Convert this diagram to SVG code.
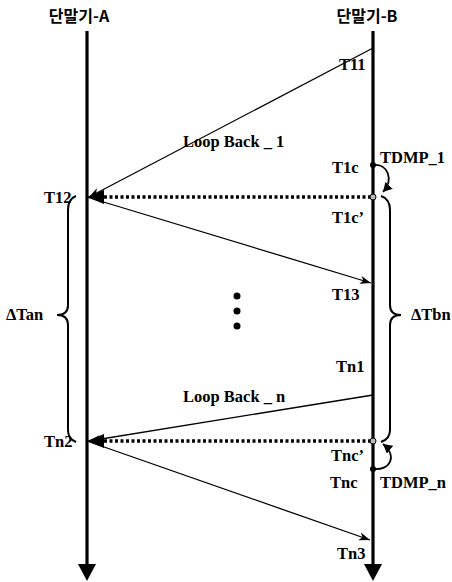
<svg xmlns="http://www.w3.org/2000/svg" width="452" height="582" viewBox="0 0 452 582">
<style>
text{font-family:"Liberation Serif","Noto Sans CJK KR",serif;font-weight:bold;font-size:16.5px;fill:#000}
.kr{font-family:"Noto Sans CJK KR","Liberation Sans",sans-serif;font-size:16px}
.life{stroke:#000;stroke-width:3.2;fill:none}
.msg{stroke:#000;stroke-width:1.3;fill:none}
.dot{stroke:#000;stroke-width:3.5;stroke-dasharray:3 2.5;fill:none}
.brace{stroke:#000;stroke-width:2;fill:none}
.loop{stroke:#000;stroke-width:1.8;fill:none}
</style>
<defs>
<marker id="ah" markerWidth="12" markerHeight="10" refX="11" refY="5" orient="auto" markerUnits="userSpaceOnUse">
<path d="M0,1 L11,5 L0,9 L3,5 Z" fill="#000"/>
</marker>
<marker id="ca" markerWidth="10" markerHeight="10" refX="9" refY="5" orient="auto" markerUnits="userSpaceOnUse">
<path d="M0,0 L9,5 L0,10 Z" fill="#000"/>
</marker>
</defs>

<g id="lifeline-A">
<text class="kr" x="79" y="22" text-anchor="middle">단말기-A</text>
<line class="life" x1="87" y1="31" x2="87" y2="566"/>
<polygon points="78,564 96,564 87,581" fill="#000"/>
</g>
<g id="lifeline-B">
<text class="kr" x="367" y="22" text-anchor="middle">단말기-B</text>
<line class="life" x1="373" y1="31" x2="373" y2="566"/>
<polygon points="364,564 382,564 373,581" fill="#000"/>
</g>

<g id="connectors">
<line class="msg" x1="373" y1="48" x2="89" y2="197" marker-end="url(#ah)"/>
<line class="dot" x1="371" y1="197" x2="102" y2="197"/>
<polygon points="87,197 104,190 104,204" fill="#000"/>
<line class="msg" x1="87" y1="197" x2="371" y2="283" marker-end="url(#ah)"/>
<line class="msg" x1="373" y1="395" x2="89" y2="441" marker-end="url(#ah)"/>
<line class="dot" x1="371" y1="441" x2="102" y2="441"/>
<polygon points="87,441 104,434 104,448" fill="#000"/>
<line class="msg" x1="87" y1="441" x2="370" y2="540" marker-end="url(#ah)"/>
<path class="loop" d="M373,165 C388,163 394,180 383,192" marker-end="url(#ca)"/>
<path class="loop" d="M373,469 C390,471 398,456 383,444" marker-end="url(#ca)"/>
</g>

<g id="events">
<circle cx="373" cy="165" r="3" fill="#000"/>
<circle cx="373" cy="469" r="3" fill="#000"/>
<circle cx="373" cy="197" r="3" fill="#bbb" stroke="#000" stroke-width="1"/>
<circle cx="373" cy="441" r="3" fill="#bbb" stroke="#000" stroke-width="1"/>
<circle cx="237" cy="296" r="3.5" fill="#000"/>
<circle cx="237" cy="311" r="3.5" fill="#000"/>
<circle cx="237" cy="326" r="3.5" fill="#000"/>
</g>

<g id="brace-A">
<path class="brace" d="M76,196 Q68,199 68,210 L68,305 Q68,315 57,315 Q68,315 68,325 L68,430 Q68,439 76,442"/>
<text x="6" y="320">ΔTan</text>
</g>
<g id="brace-B">
<path class="brace" d="M381,196 Q390,199 390,210 L390,305 Q390,315 401,315 Q390,315 390,325 L390,430 Q390,439 381,442"/>
<text x="411" y="320">ΔTbn</text>
</g>

<g id="labels">
<text x="339" y="70">T11</text>
<text x="183" y="147">Loop Back _ 1</text>
<text x="332" y="173">T1c</text>
<text x="380" y="163">TDMP_1</text>
<text x="44" y="203">T12</text>
<text x="332" y="223">T1c’</text>
<text x="332" y="300">T13</text>
<text x="336" y="372">Tn1</text>
<text x="183" y="402">Loop Back _ n</text>
<text x="44" y="447">Tn2</text>
<text x="331" y="461">Tnc’</text>
<text x="330" y="488">Tnc</text>
<text x="380" y="488">TDMP_n</text>
<text x="337" y="559">Tn3</text>
</g>
</svg>
